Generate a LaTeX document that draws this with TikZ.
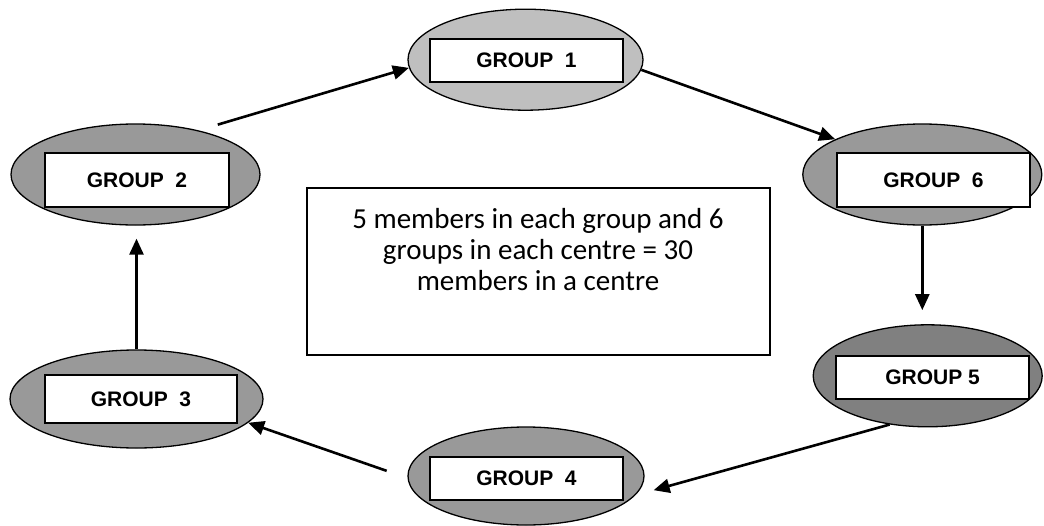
\documentclass[tikz,border=0pt]{standalone}
\usepackage{fontspec}
\setmainfont{Carlito}
\newfontfamily\labelfont{Liberation Sans}
\usetikzlibrary{arrows.meta,shapes.geometric}
\definecolor{lightgroup}{gray}{0.75}
\definecolor{midgroup}{gray}{0.6}
\definecolor{darkgroup}{gray}{0.5}

\begin{document}
\begin{tikzpicture}[x=1pt,y=-1pt,
  grp/.style={ellipse, draw=black, line width=1.3pt, inner sep=0pt},
  tag/.style={rectangle, draw=black, line width=2pt, fill=white, inner sep=0pt,
    font=\labelfont\bfseries\fontsize{21}{25}\selectfont,
    minimum width=193pt, minimum height=43pt},
  link/.style={line width=2.6pt, -{Triangle[length=16pt,width=14pt]}}]

\useasboundingbox (0,0) rectangle (1044,525);

% groups arranged round the centre
\node[grp, fill=lightgroup, minimum width=235pt, minimum height=101pt] (g1) at (525.5,59.7) {};
\node[grp, fill=midgroup,   minimum width=249pt, minimum height=101pt] (g2) at (135.5,174.5) {};
\node[grp, fill=midgroup,   minimum width=253pt, minimum height=98pt]  (g3) at (136.5,399) {};
\node[grp, fill=midgroup,   minimum width=236pt, minimum height=98pt]  (g4) at (526,476) {};
\node[grp, fill=darkgroup,  minimum width=229pt, minimum height=102pt] (g5) at (927.7,375.8) {};
\node[grp, fill=midgroup,   minimum width=239pt, minimum height=101pt] (g6) at (922.3,174.5) {};

\node[tag] (t1) at (526.5,60.5) {GROUP\ \ 1};
\node[tag, minimum width=184pt, minimum height=54pt] (t2) at (137,180) {GROUP\ \ 2};
\node[tag, minimum width=192pt, minimum height=48pt] (t3) at (141,399) {GROUP\ \ 3};
\node[tag] (t4) at (526.5,478.3) {GROUP\ \ 4};
\node[tag] (t5) at (932.5,377.7) {GROUP 5};
\node[tag, minimum height=54pt] (t6) at (933.5,180.3) {GROUP\ \ 6};

% note in the middle
\node[draw=black, line width=1.6pt, inner sep=0pt, minimum width=463pt, minimum height=167pt] (info) at (538.5,271.5) {};
\node[font=\fontsize{29}{30.8}\selectfont, align=center, inner sep=0pt] (infotext) at (538,249.5)
  {5 members in each group and 6\\groups in each centre = 30\\members in a centre};

% cycle of arrows
\draw[link, shorten <=20pt] (g2.35.5) -- (g1.184);
\draw[link] (g1.-5) -- (g6.158);
\draw[link, shorten >=14pt] (g6.south) -- (g6.south |- g5.north);
\draw[link, shorten >=19pt] (g5.232) -- (g4.-10.5);
\draw[link, shorten <=22pt] (g4.181) -- (g3.-12.6);
\draw[link, shorten >=13pt] (g3.north) -- (g3.north |- g2.south);
\end{tikzpicture}
\end{document}
